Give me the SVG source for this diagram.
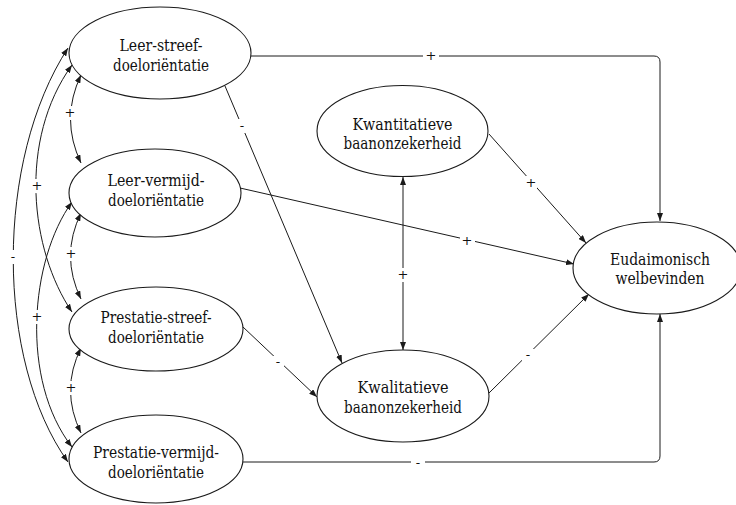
<svg xmlns="http://www.w3.org/2000/svg" width="736" height="505" viewBox="0 0 736 505">
  <style>
    .node ellipse { fill: #fff; stroke: #1a1a1a; stroke-width: 1.1; }
    .node text { font-family: "DejaVu Serif", serif; font-size: 16.5px; fill: #111; text-anchor: middle; }
    .edge { fill: none; stroke: #1a1a1a; stroke-width: 1; }
    .one { marker-end: url(#arrow); }
    .two { marker-start: url(#arrow); marker-end: url(#arrow); }
    .lbl { font-family: "DejaVu Serif", serif; font-size: 13px; fill: #111; text-anchor: middle; }
    .halo { fill: #fff; stroke: none; }
  </style>
  <defs>
    <marker id="arrow" markerUnits="userSpaceOnUse" markerWidth="8" markerHeight="6" refX="8" refY="3" orient="auto-start-reverse">
      <path d="M0,0 L8,3 L0,6 z" fill="#1a1a1a"/>
    </marker>
  </defs>
  <rect width="736" height="505" fill="#fff"/>

  <!-- connectors -->
  <g id="connectors">
    <!-- covariances between the goal orientations -->
    <path class="edge two" d="M81,75 Q60,119 81,163"/>
    <path class="edge two" d="M81,213 Q60,256 81,299"/>
    <path class="edge two" d="M81,348 Q60,390 81,433"/>
    <path class="edge two" d="M72,65 C18,140 30,250 72,312"/>
    <path class="edge two" d="M72,202 C30,260 20,380 72,447"/>
    <path class="edge two" d="M68,48 C-5,160 -5,360 68,462"/>

    <!-- paths -->
    <path class="edge one" d="M251,56 H654 Q660,56 660,62 V221"/>
    <path class="edge one" d="M225,86 L342,363"/>
    <path class="edge one" d="M240,188 L574,264"/>
    <path class="edge one" d="M489,134 L586,243"/>
    <path class="edge two" d="M403,177 V350"/>
    <path class="edge one" d="M243,327 L317,397"/>
    <path class="edge one" d="M489,393 L589,294"/>
    <path class="edge one" d="M243,462 H654 Q660,462 660,456 V314"/>

    <!-- gaps behind the coefficient signs -->
    <rect class="halo" x="64" y="106" width="12" height="14"/>
    <rect class="halo" x="65" y="247" width="12" height="14"/>
    <rect class="halo" x="65" y="381" width="12" height="14"/>
    <rect class="halo" x="31" y="179" width="12" height="14"/>
    <rect class="halo" x="31" y="310" width="12" height="14"/>
    <rect class="halo" x="8" y="250" width="10" height="14"/>
    <rect class="halo" x="423" y="52" width="16" height="9"/>
    <rect class="halo" x="237" y="119" width="10" height="14"/>
    <rect class="halo" x="460" y="235" width="15" height="12"/>
    <rect class="halo" x="525" y="176" width="12" height="14"/>
    <rect class="halo" x="397" y="268" width="12" height="14"/>
    <rect class="halo" x="272" y="356" width="12" height="12"/>
    <rect class="halo" x="522" y="349" width="12" height="12"/>
    <rect class="halo" x="411" y="458" width="14" height="9"/>

    <!-- coefficient signs -->
    <text class="lbl" x="70" y="117">+</text>
    <text class="lbl" x="71" y="258">+</text>
    <text class="lbl" x="71" y="392">+</text>
    <text class="lbl" x="37" y="190">+</text>
    <text class="lbl" x="37" y="321">+</text>
    <text class="lbl" x="13" y="261">-</text>
    <text class="lbl" x="431" y="60">+</text>
    <text class="lbl" x="242" y="130">-</text>
    <text class="lbl" x="467" y="245">+</text>
    <text class="lbl" x="531" y="187">+</text>
    <text class="lbl" x="403" y="279">+</text>
    <text class="lbl" x="278" y="366">-</text>
    <text class="lbl" x="528" y="359">-</text>
    <text class="lbl" x="418" y="467">-</text>
  </g>

  <!-- nodes -->
  <g id="leer-streef" class="node">
    <ellipse cx="160" cy="53" rx="91" ry="46"/>
    <text x="161" y="51" textLength="83" lengthAdjust="spacingAndGlyphs">Leer-streef-</text>
    <text x="161" y="71" textLength="96" lengthAdjust="spacingAndGlyphs">doeloriëntatie</text>
  </g>
  <g id="leer-vermijd" class="node">
    <ellipse cx="155" cy="193" rx="86" ry="44"/>
    <text x="156" y="186" textLength="97" lengthAdjust="spacingAndGlyphs">Leer-vermijd-</text>
    <text x="156" y="206" textLength="96" lengthAdjust="spacingAndGlyphs">doeloriëntatie</text>
  </g>
  <g id="prestatie-streef" class="node">
    <ellipse cx="156" cy="329" rx="87" ry="42"/>
    <text x="156" y="323" textLength="111" lengthAdjust="spacingAndGlyphs">Prestatie-streef-</text>
    <text x="156" y="343" textLength="96" lengthAdjust="spacingAndGlyphs">doeloriëntatie</text>
  </g>
  <g id="prestatie-vermijd" class="node">
    <ellipse cx="156" cy="459" rx="87" ry="44"/>
    <text x="156" y="458" textLength="126" lengthAdjust="spacingAndGlyphs">Prestatie-vermijd-</text>
    <text x="156" y="478" textLength="96" lengthAdjust="spacingAndGlyphs">doeloriëntatie</text>
  </g>
  <g id="kwantitatief" class="node">
    <ellipse cx="402.5" cy="131" rx="85.5" ry="45.5"/>
    <text x="402.5" y="130" textLength="100" lengthAdjust="spacingAndGlyphs">Kwantitatieve</text>
    <text x="402.5" y="149" textLength="118" lengthAdjust="spacingAndGlyphs">baanonzekerheid</text>
  </g>
  <g id="kwalitatief" class="node">
    <ellipse cx="403" cy="396" rx="86" ry="46"/>
    <text x="403" y="393" textLength="91" lengthAdjust="spacingAndGlyphs">Kwalitatieve</text>
    <text x="403" y="413" textLength="118" lengthAdjust="spacingAndGlyphs">baanonzekerheid</text>
  </g>
  <g id="welbevinden" class="node">
    <ellipse cx="657" cy="268" rx="84" ry="46"/>
    <text x="660" y="265" textLength="100" lengthAdjust="spacingAndGlyphs">Eudaimonisch</text>
    <text x="660" y="284" textLength="89" lengthAdjust="spacingAndGlyphs">welbevinden</text>
  </g>
</svg>
